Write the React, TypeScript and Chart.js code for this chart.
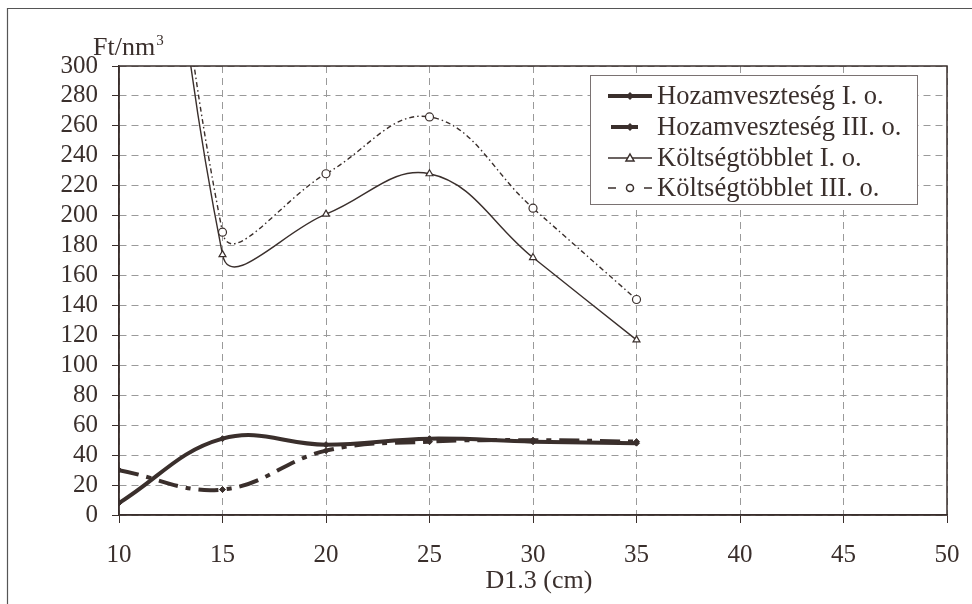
import React, { useEffect, useRef } from "react";
import { Chart, registerables } from "chart.js";

Chart.register(...registerables);

// ---- data ----
const xValues = [10, 15, 20, 25, 30, 35];
const hozamI = [8, 51, 47, 51, 49, 48];
const hozamIII = [30, 17, 43, 49, 50, 49];
const koltsegI = [900, 174, 201, 228, 172, 117];
const koltsegIII = [930, 189, 228, 266, 205, 144];
const seriesNames = [
  "Hozamveszteség I. o.",
  "Hozamveszteség III. o.",
  "Költségtöbblet I. o.",
  "Költségtöbblet III. o.",
];
const xTickValues = [10, 15, 20, 25, 30, 35, 40, 45, 50];
const yTickValues = [0, 20, 40, 60, 80, 100, 120, 140, 160, 180, 200, 220, 240, 260, 280, 300];
const xTitle = "D1.3 (cm)";
const yTitle = "Ft/nm";
const yTitleSup = "3";

const FONT = '"Liberation Serif", "Times New Roman", serif';
const INK = "#3a2f2c";
const GRID = "#9a9a9a";

const toPoints = (vals: number[]) => xValues.map((x, i) => ({ x, y: vals[i] }));

const decorPlugin = {
  id: "decor",
  beforeDraw(chart: any) {
    const ctx = chart.ctx;
    ctx.save();
    ctx.fillStyle = "#ffffff";
    ctx.fillRect(0, 0, chart.width, chart.height);
    ctx.restore();
  },
  afterDraw(chart: any) {
    const ctx = chart.ctx;
    const a = chart.chartArea;
    ctx.save();
    // outer frame (clipped by the window on right/bottom)
    ctx.strokeStyle = "#555";
    ctx.lineWidth = 1.2;
    ctx.beginPath();
    ctx.moveTo(7.5, chart.height);
    ctx.lineTo(7.5, 8.5);
    ctx.lineTo(chart.width, 8.5);
    ctx.stroke();
    // plot box
    ctx.strokeStyle = INK;
    ctx.lineWidth = 1.5;
    ctx.strokeRect(a.left, a.top, a.right - a.left, a.bottom - a.top);

    // axis titles
    ctx.fillStyle = INK;
    ctx.textBaseline = "alphabetic";
    ctx.textAlign = "left";
    ctx.font = `26px ${FONT}`;
    ctx.fillText(yTitle, 93, 55);
    const w = ctx.measureText(yTitle).width;
    ctx.font = `15px ${FONT}`;
    ctx.fillText(yTitleSup, 93 + w + 1, 45);
    ctx.font = `26px ${FONT}`;
    ctx.textAlign = "center";
    ctx.fillText(xTitle, 539, 588);

    // legend
    const lx = 590.5, ly = 75.5, lw = 327, lh = 129;
    ctx.fillStyle = "#ffffff";
    ctx.fillRect(lx, ly, lw, lh);
    ctx.strokeStyle = "#7a7272";
    ctx.lineWidth = 1;
    ctx.strokeRect(lx, ly, lw, lh);
    const rows = [96, 127, 158, 188];
    const mx = 630;
    ctx.strokeStyle = INK;
    ctx.fillStyle = INK;
    ctx.lineCap = "butt";
    // row 0
    ctx.lineWidth = 4;
    ctx.beginPath(); ctx.moveTo(608, rows[0]); ctx.lineTo(652, rows[0]); ctx.stroke();
    ctx.beginPath(); ctx.moveTo(mx, rows[0] - 4); ctx.lineTo(mx + 4, rows[0]); ctx.lineTo(mx, rows[0] + 4); ctx.lineTo(mx - 4, rows[0]); ctx.closePath(); ctx.fill();
    // row 1
    ctx.beginPath(); ctx.moveTo(611, rows[1]); ctx.lineTo(638, rows[1]); ctx.stroke();
    ctx.beginPath(); ctx.moveTo(mx, rows[1] - 4); ctx.lineTo(mx + 4, rows[1]); ctx.lineTo(mx, rows[1] + 4); ctx.lineTo(mx - 4, rows[1]); ctx.closePath(); ctx.fill();
    // row 2
    ctx.lineWidth = 1.5;
    ctx.beginPath(); ctx.moveTo(608, rows[2]); ctx.lineTo(652, rows[2]); ctx.stroke();
    ctx.fillStyle = "#fff";
    ctx.beginPath(); ctx.moveTo(mx, rows[2] - 4); ctx.lineTo(mx + 4, rows[2] + 3); ctx.lineTo(mx - 4, rows[2] + 3); ctx.closePath(); ctx.fill(); ctx.stroke();
    // row 3
    ctx.beginPath(); ctx.moveTo(608, rows[3]); ctx.lineTo(616, rows[3]); ctx.moveTo(644, rows[3]); ctx.lineTo(652, rows[3]); ctx.stroke();
    ctx.beginPath(); ctx.arc(mx, rows[3], 3.5, 0, Math.PI * 2); ctx.fill(); ctx.stroke();
    // texts
    ctx.fillStyle = INK;
    ctx.font = `26.5px ${FONT}`;
    ctx.textAlign = "left";
    ctx.textBaseline = "middle";
    seriesNames.forEach((n, i) => ctx.fillText(n, 657, rows[i] + 1));
    ctx.restore();
  },
};

export default function App() {
  const ref = useRef<HTMLCanvasElement>(null);
  useEffect(() => {
    if (!ref.current) return;
    const chart = new Chart(ref.current, {
      type: "line",
      data: {
        datasets: [
          {
            label: seriesNames[0],
            data: toPoints(hozamI),
            borderColor: INK,
            backgroundColor: INK,
            borderWidth: 4,
            tension: 0.4,
            pointStyle: "rectRot",
            pointRadius: 3,
            pointBorderWidth: 1,
          },
          {
            label: seriesNames[1],
            data: toPoints(hozamIII),
            borderColor: INK,
            backgroundColor: INK,
            borderWidth: 4,
            borderDash: [20, 8, 5, 8],
            tension: 0.4,
            pointStyle: "rectRot",
            pointRadius: 3,
            pointBorderWidth: 1,
          },
          {
            label: seriesNames[2],
            data: toPoints(koltsegI),
            borderColor: INK,
            backgroundColor: "#ffffff",
            borderWidth: 1.4,
            tension: 0.4,
            pointStyle: "triangle",
            pointRadius: 4,
            pointBorderWidth: 1.2,
            clip: 0,
          },
          {
            label: seriesNames[3],
            data: toPoints(koltsegIII),
            borderColor: INK,
            backgroundColor: "#ffffff",
            borderWidth: 1.4,
            borderDash: [5, 3, 1.5, 3],
            tension: 0.4,
            pointStyle: "circle",
            pointRadius: 4,
            pointBorderWidth: 1.2,
            clip: 0,
          },
        ],
      },
      options: {
        responsive: false,
        animation: false,
        devicePixelRatio: 1,
        layout: { padding: { top: 66, right: 25, left: 0, bottom: 0 } },
        elements: { line: { capBezierPoints: false } },
        plugins: { legend: { display: false }, tooltip: { enabled: false }, title: { display: false } },
        scales: {
          x: {
            type: "linear",
            min: 10,
            max: 50,
            afterBuildTicks: (s: any) => { s.ticks = xTickValues.map((v) => ({ value: v })); },
            afterFit: (s: any) => { s.height = 89; s.paddingLeft = 0; s.paddingRight = 0; },
            ticks: { font: { family: FONT, size: 25 }, color: INK, padding: 17, maxRotation: 0, autoSkip: false },
            grid: { color: GRID, lineWidth: 1, tickLength: 8, tickColor: INK, tickBorderDash: [], tickWidth: 1 },
            border: { display: true, color: INK, width: 1.5, dash: [7, 5] },
          },
          y: {
            type: "linear",
            min: 0,
            max: 300,
            afterBuildTicks: (s: any) => { s.ticks = yTickValues.map((v) => ({ value: v })); },
            afterFit: (s: any) => { s.width = 119; s.paddingTop = 0; s.paddingBottom = 0; },
            ticks: { font: { family: FONT, size: 25 }, color: INK, padding: 14, autoSkip: false },
            grid: { color: GRID, lineWidth: 1, tickLength: 7, tickColor: INK, tickBorderDash: [], tickWidth: 1 },
            border: { display: true, color: INK, width: 1.5, dash: [7, 5] },
          },
        },
      },
      plugins: [decorPlugin],
    } as any);
    return () => chart.destroy();
  }, []);
  return (
    <canvas
      ref={ref}
      width={972}
      height={604}
      style={{ position: "absolute", left: 0, top: 0, width: 972, height: 604 }}
    />
  );
}
